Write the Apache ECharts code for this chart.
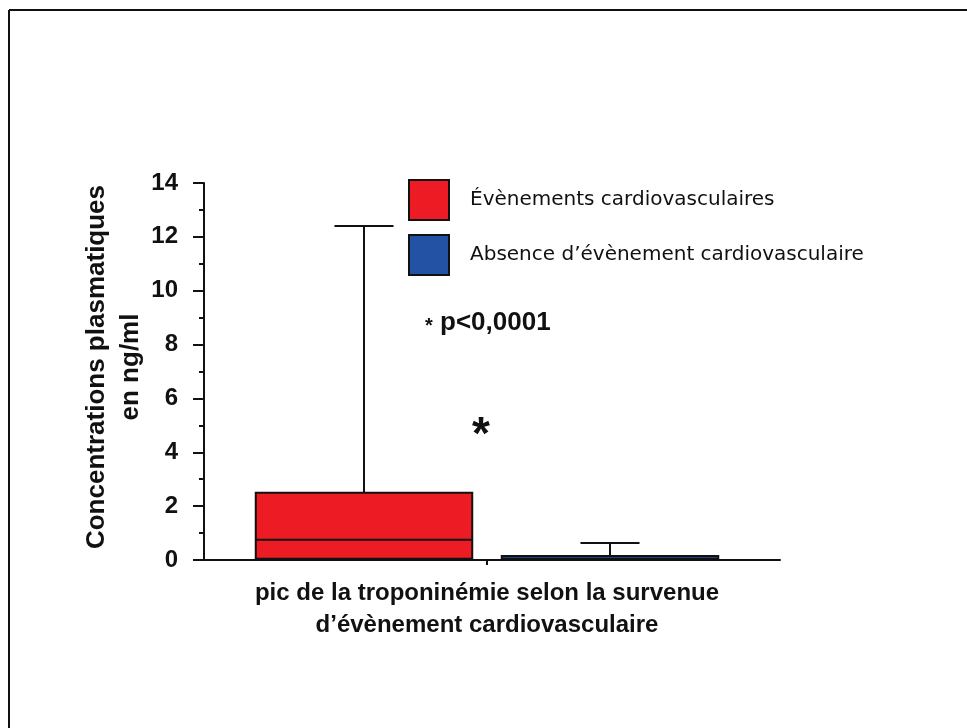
<!DOCTYPE html>
<html>
<head>
<meta charset="utf-8">
<script src="https://cdn.jsdelivr.net/npm/echarts@6/dist/echarts.min.js"></script>
<style>
  html, body { margin: 0; padding: 0; background: #fff; }
  #chart { width: 967px; height: 728px; }
</style>
</head>
<body>
<div id="chart"></div>
<script>
  // groups on the x axis
  const categories = ['Évènements cardiovasculaires', 'Absence d\u2019évènement cardiovasculaire'];
  // [min, Q1, median, Q3, max] in ng/ml
  const eventBox = [0, 0.05, 0.75, 2.5, 12.4];
  const noEventBox = [0, 0, 0.05, 0.15, 0.63];
  const yTicks = [0, 2, 4, 6, 8, 10, 12, 14];

  const colors = ['#ED1C24', '#2352A4'];
  const ink = '#111';
  const font = '"Liberation Sans", Arial, sans-serif';
  const legendFont = '"DejaVu Sans", Verdana, sans-serif';

  const chart = echarts.init(document.getElementById('chart'), null, { renderer: 'canvas' });

  const renderBox = (params, api) => {
    const x = api.value(0);
    const pt = (i) => api.coord([x, api.value(i)]);
    const lo = pt(1);
    const q1 = pt(2);
    const med = pt(3);
    const q3 = pt(4);
    const hi = pt(5);
    const band = api.size([1, 0])[0];
    const halfBox = band * 0.44;
    const halfCap = band * 0.12;
    const cx = lo[0];
    const lineStyle = { stroke: ink, lineWidth: 2 };
    return {
      type: 'group',
      children: [
        { type: 'line', shape: { x1: cx, y1: q3[1], x2: cx, y2: hi[1] }, style: lineStyle },
        { type: 'line', shape: { x1: cx - halfCap, y1: hi[1], x2: cx + halfCap, y2: hi[1] }, style: lineStyle },
        { type: 'line', shape: { x1: cx, y1: q1[1], x2: cx, y2: lo[1] }, style: lineStyle },
        { type: 'line', shape: { x1: cx - halfCap, y1: lo[1], x2: cx + halfCap, y2: lo[1] }, style: lineStyle },
        {
          type: 'rect',
          shape: { x: cx - halfBox, y: q3[1], width: halfBox * 2, height: q1[1] - q3[1] },
          style: { fill: api.visual('color'), stroke: ink, lineWidth: 2 },
        },
        { type: 'line', shape: { x1: cx - halfBox, y1: med[1], x2: cx + halfBox, y2: med[1] }, style: lineStyle },
      ],
    };
  };

  chart.setOption({
    animation: false,
    backgroundColor: '#fff',
    textStyle: { fontFamily: font },
    grid: [
      { left: 241, right: 234, top: 183, bottom: 168 },
      { left: 194, right: 187, top: 183, bottom: 168 },
    ],
    title: {
      text: 'pic de la troponinémie selon la survenue\nd\u2019évènement cardiovasculaire',
      left: 482,
      top: 572,
      textAlign: 'center',
      textStyle: { fontFamily: font, fontSize: 24, fontWeight: 'bold', color: ink, lineHeight: 32 },
    },
    legend: {
      orient: 'vertical',
      left: 408,
      top: 179,
      padding: 0,
      itemWidth: 40,
      itemHeight: 40,
      itemGap: 13,
      icon: 'rect',
      itemStyle: { borderColor: ink, borderWidth: 2 },
      textStyle: { fontFamily: legendFont, fontSize: 20, color: ink, padding: [0, 0, 0, 16] },
      data: categories,
    },
    xAxis: [
      {
        type: 'category',
        gridIndex: 0,
        data: categories,
        boundaryGap: true,
        axisLine: { show: false },
        axisTick: { show: false },
        axisLabel: { show: false },
      },
      {
        type: 'value',
        gridIndex: 1,
        min: 0,
        max: 1,
        axisLine: { show: true, lineStyle: { color: ink, width: 2 } },
        axisTick: { show: false },
        axisLabel: { show: false },
        splitLine: { show: false },
      },
    ],
    yAxis: [
      {
        type: 'value',
        gridIndex: 0,
        min: yTicks[0],
        max: yTicks[yTicks.length - 1],
        interval: 2,
        offset: 37,
        axisLine: { show: true, lineStyle: { color: ink, width: 2 } },
        axisTick: { show: true, length: 11, lineStyle: { color: ink, width: 2 } },
        minorTick: { show: true, splitNumber: 2, length: 5, lineStyle: { color: ink, width: 2 } },
        axisLabel: { fontFamily: font, fontSize: 24, fontWeight: 'bold', color: ink, margin: 26 },
        splitLine: { show: false },
      },
      {
        type: 'value',
        gridIndex: 1,
        min: 0,
        max: 14,
        show: false,
      },
    ],
    series: [
      {
        name: categories[0],
        type: 'custom',
        xAxisIndex: 0,
        yAxisIndex: 0,
        itemStyle: { color: colors[0] },
        renderItem: renderBox,
        data: [[0, ...eventBox]],
        z: 3,
      },
      {
        name: categories[1],
        type: 'custom',
        xAxisIndex: 0,
        yAxisIndex: 0,
        itemStyle: { color: colors[1] },
        renderItem: renderBox,
        data: [[1, ...noEventBox]],
        z: 3,
      },
    ],
    graphic: [
      { type: 'line', shape: { x1: 9, y1: 10, x2: 967, y2: 10 }, style: { stroke: ink, lineWidth: 2 } },
      { type: 'line', shape: { x1: 9, y1: 10, x2: 9, y2: 728 }, style: { stroke: ink, lineWidth: 2 } },
      // small separator tick under the axis between the two groups
      { type: 'line', shape: { x1: 487, y1: 560, x2: 487, y2: 565 }, style: { stroke: ink, lineWidth: 2 } },
      // y axis title
      {
        type: 'text',
        x: 114,
        y: 367,
        rotation: Math.PI / 2,
        style: {
          text: 'Concentrations plasmatiques\nen ng/ml',
          fill: ink,
          font: 'bold 26px ' + font,
          lineHeight: 34,
          align: 'center',
          verticalAlign: 'middle',
        },
      },
      {
        type: 'text',
        left: 425,
        top: 310,
        style: {
          text: '{s|*} p<0,0001',
          fill: ink,
          font: 'bold 26px ' + font,
          rich: { s: { fontSize: 20, fontWeight: 'bold', fontFamily: font, fill: ink, padding: [6, 0, 0, 0] } },
        },
      },
      {
        type: 'text',
        left: 472,
        top: 413,
        style: { text: '*', fill: ink, font: 'bold 46px ' + font },
      },
    ],
  });
</script>
</body>
</html>
